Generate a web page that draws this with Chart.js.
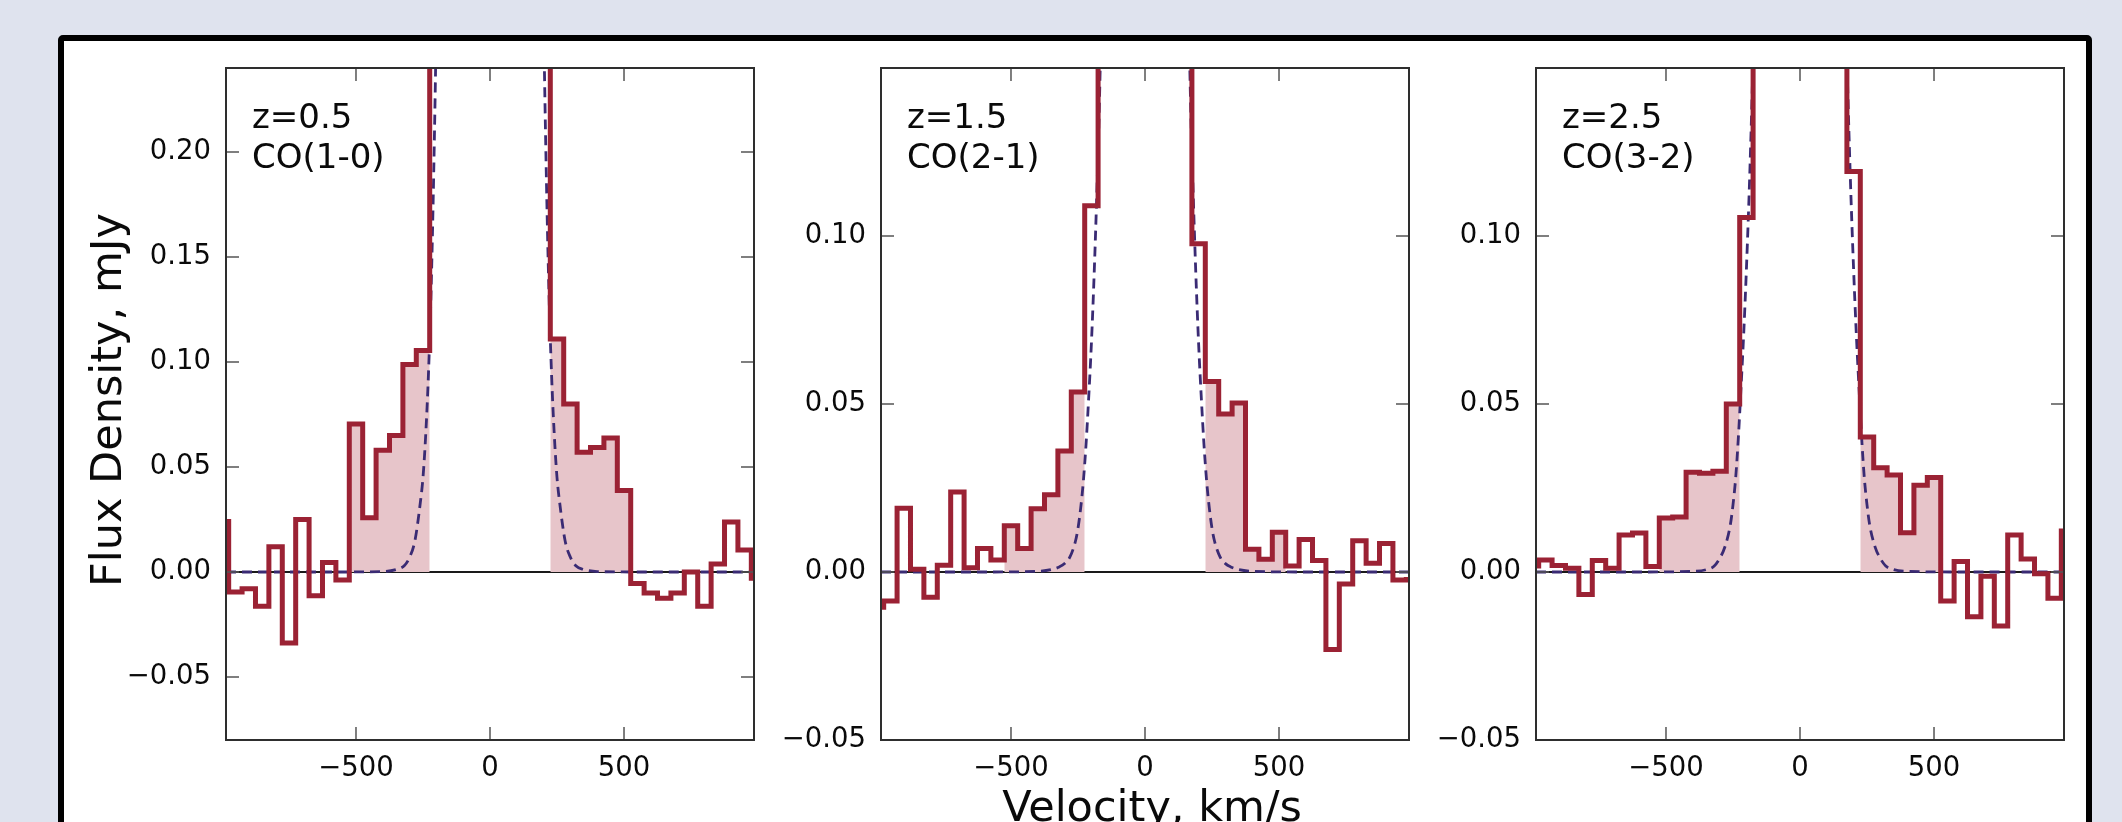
<!DOCTYPE html>
<html>
<head>
<meta charset="utf-8">
<script src="https://cdn.jsdelivr.net/npm/chart.js@4.4.1/dist/chart.umd.min.js"></script>
<style>
  html, body { margin: 0; padding: 0; width: 2122px; height: 822px; overflow: hidden; background: #dfe3ee; }
  #frame { position: absolute; left: 58px; top: 35px; width: 2022px; height: 900px; border: 6px solid #000; border-radius: 5px; background: #fff; }
  canvas.panel { position: absolute; top: 0; }
  .txt { position: absolute; font-family: 'DejaVu Sans', sans-serif; color: #0a0a0a; white-space: nowrap; }
  .note { font-size: 34px; line-height: 40px; }
  .axt { font-size: 43px; line-height: 50px; width: 500px; text-align: center; }
</style>
</head>
<body>
<div id="frame"></div>
<canvas id="p1" class="panel" width="686" height="822" style="left:76px"></canvas>
<canvas id="p2" class="panel" width="686" height="822" style="left:731px"></canvas>
<canvas id="p3" class="panel" width="686" height="822" style="left:1386px"></canvas>

<div class="txt note" style="left:252px; top:96px;">z=0.5<br>CO(1-0)</div>
<div class="txt note" style="left:907px; top:96px;">z=1.5<br>CO(2-1)</div>
<div class="txt note" style="left:1562px; top:96px;">z=2.5<br>CO(3-2)</div>
<div class="txt axt" style="left:-144px; top:375px; transform: rotate(-90deg);">Flux Density, mJy</div>
<div class="txt axt" style="left:902px; top:781px;">Velocity, km/s</div>

<script>
// ---- data ----
const velocity = [-1000,-950,-900,-850,-800,-750,-700,-650,-600,-550,-500,-450,-400,-350,-300,-250,-200,-150,-100,-50,
                  0,50,100,150,200,250,300,350,400,450,500,550,600,650,700,750,800,850,900,950,1000];

const fluxZ05 = [0.024,-0.0095,-0.008,-0.0163,0.012,-0.0338,0.025,-0.0113,0.0045,-0.0038,
                 0.0705,0.0258,0.058,0.065,0.0988,0.1055,0.42,1.1,2.4,3.8,
                 4.4,3.9,2.5,1.2,0.45,0.111,0.080,0.057,0.0593,0.0638,
                 0.0388,-0.0055,-0.010,-0.0125,-0.010,0.0,-0.0163,0.0038,0.0238,0.0105,-0.003];

const fluxZ15 = [-0.0105,-0.0086,0.019,0.0008,-0.0075,0.002,0.0238,0.0013,0.007,0.0036,
                 0.0138,0.007,0.0188,0.023,0.036,0.0536,0.109,0.45,0.8,1.05,
                 1.15,1.05,0.8,0.42,0.0977,0.0567,0.047,0.0503,0.0068,0.0038,
                 0.0118,0.0018,0.0097,0.0034,-0.0231,-0.0036,0.0093,0.0026,0.0085,-0.0024,-0.0022];

const fluxZ25 = [0.0018,0.0036,0.0019,0.0011,-0.0067,0.0034,0.0011,0.011,0.0116,0.0016,
                 0.0161,0.0164,0.0297,0.0294,0.030,0.050,0.1055,0.5,0.9,1.15,
                 1.22,1.15,0.9,0.5,0.1192,0.0402,0.031,0.0289,0.0117,0.0258,
                 0.0281,-0.0086,0.0031,-0.0133,-0.0013,-0.0161,0.011,0.0039,-0.0005,-0.0078,0.0122];

const modelVelocity = [-985,-600,-400,-350,-320,-300,-280,-260,-250,-240,-230,-220,-210,-200,-190,-180,-170,-160,-140,-100,
                       0,100,140,160,170,180,190,200,210,220,230,240,250,260,280,300,320,350,400,600,985];

const modelZ05 = [0,0,0.0002,0.0012,0.003,0.007,0.015,0.033,0.045,0.065,0.093,0.133,0.19,0.265,0.37,0.5,0.65,0.85,1.3,2.5,
                  4.5,2.5,1.3,0.85,0.65,0.5,0.37,0.265,0.19,0.133,0.093,0.065,0.045,0.033,0.015,0.007,0.003,0.0012,0.0002,0,0];

const modelZ15 = [0,0,0.0002,0.0007,0.0015,0.0025,0.0045,0.009,0.013,0.019,0.027,0.038,0.052,0.068,0.088,0.112,0.14,0.18,0.29,0.55,
                  1.15,0.55,0.29,0.18,0.14,0.112,0.088,0.068,0.052,0.038,0.027,0.019,0.013,0.009,0.0045,0.0025,0.0015,0.0007,0.0002,0,0];

const modelZ25 = [0,0,0.0002,0.0007,0.0018,0.004,0.0075,0.014,0.02,0.028,0.04,0.055,0.071,0.09,0.112,0.138,0.168,0.2,0.3,0.6,
                  1.22,0.6,0.3,0.2,0.168,0.138,0.112,0.09,0.071,0.055,0.04,0.028,0.02,0.014,0.0075,0.004,0.0018,0.0007,0.0002,0,0];

const wingWindows = [[-525, -225], [225, 525]];
const velocityTicks = [-500, 0, 500];
const fluxTicksZ05 = [-0.05, 0, 0.05, 0.10, 0.15, 0.20];
const fluxTicksHigh = [-0.05, 0, 0.05, 0.10];

// ---- helpers ----
function pts(xs, ys) { return xs.map((x, i) => ({ x: x, y: ys[i] })); }
function wingPoints(flux, win) {
  const p = [];
  velocity.forEach((v, i) => { if (v > win[0] && v < win[1]) p.push({ x: v, y: flux[i] }); });
  p.unshift({ x: win[0], y: p[0].y });
  p.push({ x: win[1], y: p[p.length - 1].y });
  return p;
}
const fmtSigned = (v, d) => (v < 0 ? '\u2212' : '') + Math.abs(v).toFixed(d);

const frameTicks = {
  id: 'frameTicks',
  afterDatasetsDraw(chart) {
    const { ctx, chartArea: a, scales: { x, y } } = chart;
    ctx.save();
    ctx.strokeStyle = '#555';
    ctx.lineWidth = 1.5;
    ctx.beginPath();
    x.ticks.forEach(t => {
      const px = x.getPixelForValue(t.value);
      ctx.moveTo(px, a.bottom); ctx.lineTo(px, a.bottom - 13);
      ctx.moveTo(px, a.top); ctx.lineTo(px, a.top + 13);
    });
    y.ticks.forEach(t => {
      const py = y.getPixelForValue(t.value);
      ctx.moveTo(a.left, py); ctx.lineTo(a.left + 13, py);
      ctx.moveTo(a.right, py); ctx.lineTo(a.right - 13, py);
    });
    ctx.stroke();
    ctx.strokeStyle = '#2e2e2e';
    ctx.lineWidth = 2;
    ctx.strokeRect(a.left, a.top, a.width, a.height);
    ctx.restore();
  }
};

Chart.defaults.font.family = "'DejaVu Sans', sans-serif";
Chart.defaults.font.size = 27.5;
Chart.defaults.color = '#0a0a0a';

function makePanel(id, flux, model, yMin, yMax, yTicks) {
  const datasets = [
    {
      data: pts(velocity, flux), stepped: 'middle', borderColor: '#9b2234', borderWidth: 5,
      pointRadius: 0, fill: false, clip: 0, order: 1, borderJoinStyle: 'miter'
    },
    {
      data: pts(modelVelocity, model), borderColor: '#3a2b74', borderWidth: 2.8, borderDash: [10, 6],
      pointRadius: 0, fill: false, clip: 0, order: 2, cubicInterpolationMode: 'monotone'
    }
  ];
  wingWindows.forEach(w => datasets.push({
    data: wingPoints(flux, w), stepped: 'middle', borderWidth: 0, borderColor: 'rgba(0,0,0,0)',
    backgroundColor: '#e7c5ca', fill: 'origin', pointRadius: 0, clip: 0, order: 3
  }));

  new Chart(document.getElementById(id), {
    type: 'line',
    data: { datasets: datasets },
    plugins: [frameTicks],
    options: {
      responsive: false, animation: false, events: [],
      layout: { padding: { top: 68, right: 8, left: 0, bottom: 0 } },
      plugins: { legend: { display: false }, tooltip: { enabled: false } },
      scales: {
        x: {
          type: 'linear', min: -985, max: 985,
          afterBuildTicks: s => { s.ticks = velocityTicks.map(v => ({ value: v })); },
          afterFit: s => { s.height = 82; },
          grid: { display: false, drawTicks: false },
          border: { display: false },
          ticks: { padding: 12, maxRotation: 0, autoSkip: false, callback: v => fmtSigned(v, 0) }
        },
        y: {
          type: 'linear', min: yMin, max: yMax,
          afterBuildTicks: s => { s.ticks = yTicks.map(v => ({ value: v })); },
          afterFit: s => { s.width = 150; },
          grid: {
            drawTicks: false,
            color: c => (c.tick && Math.abs(c.tick.value) < 1e-9) ? '#1a1a1a' : 'rgba(0,0,0,0)',
            lineWidth: 2
          },
          border: { display: false },
          ticks: { padding: 15, autoSkip: false, callback: v => fmtSigned(v, 2) }
        }
      }
    }
  });
}

makePanel('p1', fluxZ05, modelZ05, -0.08, 0.24, fluxTicksZ05);
makePanel('p2', fluxZ15, modelZ15, -0.05, 0.15, fluxTicksHigh);
makePanel('p3', fluxZ25, modelZ25, -0.05, 0.15, fluxTicksHigh);
</script>
</body>
</html>
